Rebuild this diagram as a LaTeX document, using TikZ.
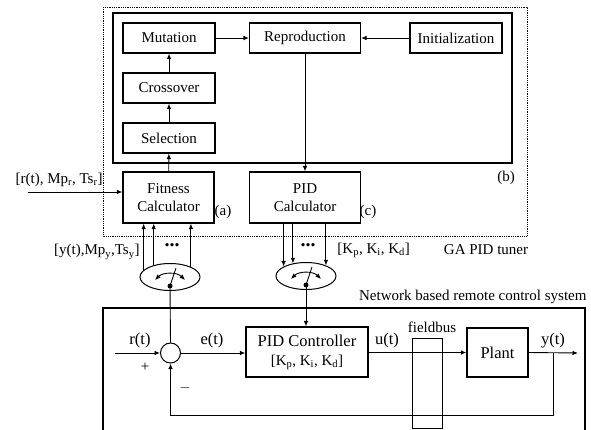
\documentclass[tikz,border=0pt]{standalone}
\usepackage{fontspec}
\setmainfont{Liberation Serif}
\usetikzlibrary{shapes.geometric,calc,arrows.meta}

\tikzset{
  blk/.style={draw,line width=1.1pt,align=center,inner sep=0pt},
  sw/.style={draw,ellipse,line width=1pt,minimum width=60,minimum height=27,inner sep=0pt},
  lbl/.style={inner sep=0pt},
  big/.style={font=\fontsize{16.5}{19}\selectfont}
}

\begin{document}
\begin{tikzpicture}[x=1pt,y=-1pt,line width=0.9pt,>={Latex[length=5.5pt,width=4.5pt]},font=\fontsize{15}{18}\selectfont]
\useasboundingbox (0,0) rectangle (591,430);

% GA PID tuner
\draw[densely dotted,line width=0.8pt] (103,7) rectangle (527,236);
\draw[line width=1.1pt] (113,13) rectangle (512,163);

\node[blk,minimum width=92,minimum height=30] (mutation) at (169,38) {Mutation};
\node[blk,minimum width=92,minimum height=30] (crossover) at (169,88) {Crossover};
\node[blk,minimum width=92,minimum height=30] (selection) at (169,138) {Selection};
\node[blk,minimum width=111,minimum height=30] (repro) at (305,38) {Reproduction};
\node[blk,minimum width=92,minimum height=30] (init) at (456,38) {Initialization};
\node[blk,minimum width=91,minimum height=51] (fitness) at (168.5,197.5) {Fitness\\Calculator};
\node[blk,minimum width=111,minimum height=51] (pidcalc) at (305,197.5) {PID\\Calculator};

\draw[->] (mutation) -- (repro);
\draw[->] (init) -- (repro);
\draw[->] (crossover) -- (mutation);
\draw[->] (selection) -- (crossover);
\draw[->] (fitness) -- (selection);
\draw[->] (repro) -- (pidcalc);

\node[lbl,anchor=east] (rref) at (103,180) {[r(t), Mp\textsubscript{r}, Ts\textsubscript{r}]};
\coordinate (rin) at (28,192);
\draw[->] (rin) -- (rin -| fitness.west);

\node[lbl] (tagA) at (223,212) {(a)};
\node[lbl] (tagC) at (368,212) {(c)};
\node[lbl] (tagB) at (506,178) {(b)};

% switches
\node[sw] (swA) at (170,277) {};
\node[sw] (swB) at (306,276) {};
\foreach \s in {swA,swB}{
  \coordinate (\s dot) at ($(\s)+(0,9)$);
  \fill (\s dot) circle (2.5);
  \draw (\s dot) -- ++(6,-18);
  \draw[<->] ($(\s)+(-15,3)$) .. controls ($(\s)+(-7,-5)$) and ($(\s)+(7,-5)$) .. ($(\s)+(15,3)$);
}
\foreach \a in {165.5,144.5,26.7}
  \draw[->] (swA.\a) -- (swA.\a |- fitness.south);
\foreach \a in {157.4,136.8,28.7}
  \draw[->] (swB.\a |- pidcalc.south) -- (swB.\a);

\node[lbl,anchor=east] (ymeas) at (140,252) {[y(t),Mp\textsubscript{y},Ts\textsubscript{y}]};
\node[lbl] (dotsA) at (172,245) {\fontsize{20}{20}\selectfont\textbf{...}};
\node[lbl] (dotsB) at (308,245) {\fontsize{20}{20}\selectfont\textbf{...}};
\node[lbl,anchor=west] (kgain) at (337,250) {[K\textsubscript{p}, K\textsubscript{i}, K\textsubscript{d}]};
\node[lbl] (tuner) at (486,250) {GA PID tuner};

% network based loop
\node[lbl,anchor=east] (net) at (587,297) {Network based remote control system};
\draw[line width=1.1pt] (103,432) |- (585,308) -- (585,432);

\node[draw,circle,line width=1pt,minimum size=20,inner sep=0pt] (sum) at (170.5,353) {};
\node[blk,big,minimum width=122,minimum height=50] (pidctrl) at (307,352) {PID Controller\\{\fontsize{15}{17}\selectfont[K\textsubscript{p}, K\textsubscript{i}, K\textsubscript{d}]}};
\node[blk,big,minimum width=61,minimum height=49] (plant) at (497.5,352.5) {Plant};
\node[draw,line width=1pt,minimum width=30,minimum height=90,inner sep=0pt] (fieldbus) at (427,383) {};

\coordinate (rsrc) at (115,353);
\coordinate (yout) at (578,353);
\coordinate (ytap) at (553,353);
\coordinate (fb) at (553,415);

\draw[->] (rsrc) -- (sum.west);
\draw[->] (sum.east) -- (sum.east -| pidctrl.west);
\draw[->] (pidctrl.east |- plant.west) -- (plant.west);
\draw[->] (plant.east) -- (yout);
\draw[->] (ytap) -- (fb) -| (sum.south);
\draw (swAdot) -- (sum.north);
\draw[->] (swBdot) -- (swBdot |- pidctrl.north);

\node[lbl,big] (rlab) at (140,341) {r(t)};
\node[lbl] (plus) at (145,367) {+};
\node[lbl] (minus) at (185,388) {$-$};
\node[lbl,big] (elab) at (212,341) {e(t)};
\node[lbl,big] (ulab) at (387,341) {u(t)};
\node[lbl] (fblab) at (432,327) {fieldbus};
\node[lbl,big] (ylab) at (553,341) {y(t)};
\end{tikzpicture}
\end{document}
